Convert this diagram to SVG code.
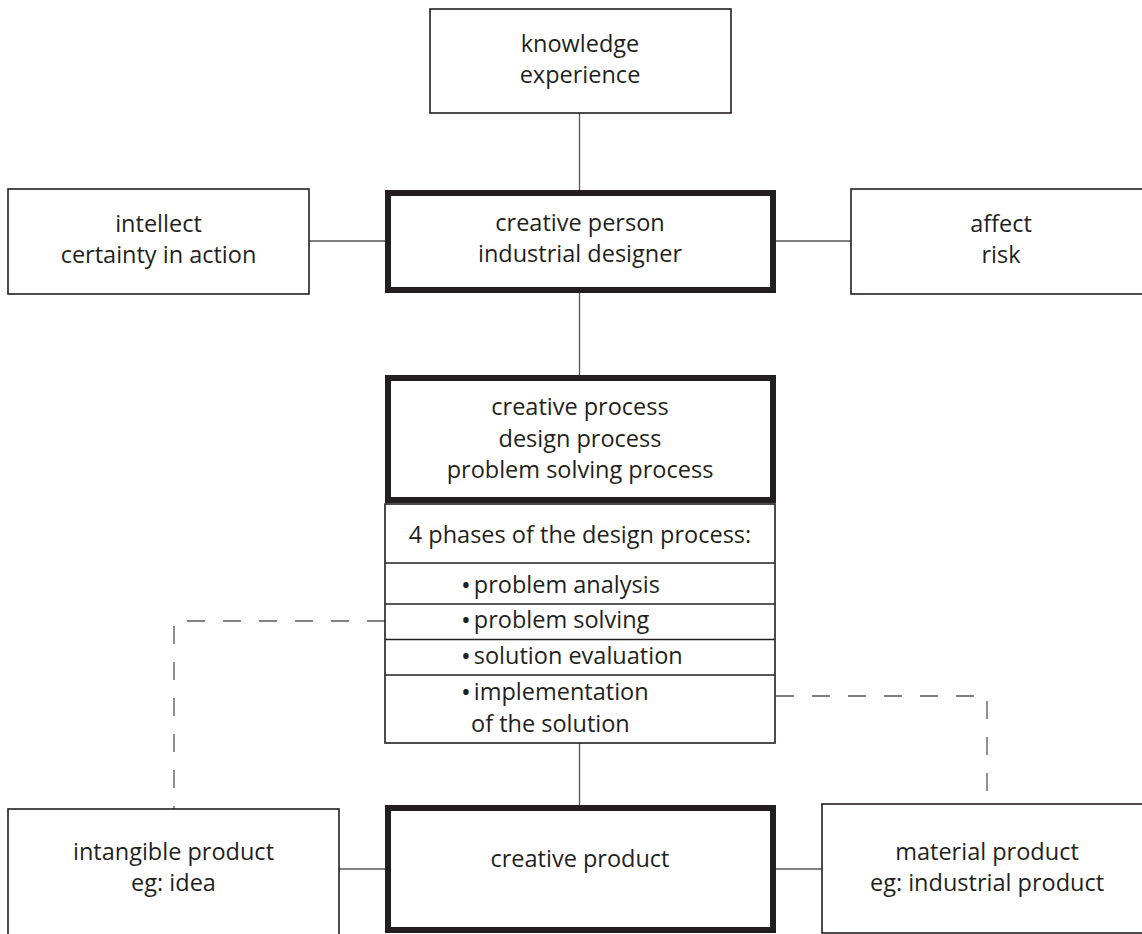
<svg xmlns="http://www.w3.org/2000/svg" width="1142" height="934" viewBox="0 0 1142 934">
<style>
.box{fill:#fff;stroke:#231f20;stroke-width:1.6}
.thick{fill:#fff;stroke:#231f20;stroke-width:6}
.div{stroke:#231f20;stroke-width:1.4}
.con{fill:none;stroke:#555;stroke-width:1.3}
.dash{fill:none;stroke:#555;stroke-width:1.3;stroke-dasharray:18 18}
text{font-family:"Open Sans","Noto Sans","Liberation Sans",sans-serif;font-size:23.5px;fill:#231f20}
.c{text-anchor:middle}
.b{font-size:26px}
</style>
<rect width="1142" height="934" fill="#fff"/>
<g id="connectors">
<line class="con" x1="579.5" y1="113" x2="579.5" y2="190"/>
<line class="con" x1="309" y1="241" x2="385" y2="241"/>
<line class="con" x1="776" y1="241" x2="851" y2="241"/>
<line class="con" x1="579.5" y1="293" x2="579.5" y2="375"/>
<line class="con" x1="579.5" y1="743" x2="579.5" y2="805"/>
<line class="con" x1="339" y1="869" x2="385" y2="869"/>
<line class="con" x1="776" y1="869" x2="822" y2="869"/>
<polyline class="dash" points="385,621 174,621 174,809"/>
<polyline class="dash" style="stroke-dasharray:18 18" points="776,696 987,696 987,804"/>
</g>
<g id="knowledge">
<rect class="box" x="430" y="9" width="301" height="104"/>
<text class="c" x="580" y="52">knowledge</text>
<text class="c" x="580" y="82.5">experience</text>
</g>
<g id="intellect">
<rect class="box" x="8" y="189" width="301" height="105"/>
<text class="c" x="158.5" y="232">intellect</text>
<text class="c" x="158.5" y="263">certainty in action</text>
</g>
<g id="person">
<rect class="thick" x="388" y="193" width="385" height="97"/>
<text class="c" x="580" y="230.5">creative person</text>
<text class="c" x="580" y="262">industrial designer</text>
</g>
<g id="affect">
<rect class="box" x="851" y="189" width="305" height="105"/>
<text class="c" x="1001" y="232">affect</text>
<text class="c" x="1001" y="263">risk</text>
</g>
<g id="process">
<rect class="thick" x="388" y="378" width="385" height="122"/>
<text class="c" x="580" y="415">creative process</text>
<text class="c" x="580" y="446.5">design process</text>
<text class="c" x="580" y="477.5">problem solving process</text>
</g>
<g id="phases">
<rect class="box" x="385" y="504" width="390" height="239"/>
<line class="div" x1="385" y1="563" x2="775" y2="563"/>
<line class="div" x1="385" y1="604" x2="775" y2="604"/>
<line class="div" x1="385" y1="639.5" x2="775" y2="639.5"/>
<line class="div" x1="385" y1="675" x2="775" y2="675"/>
<text class="c" x="580" y="543">4 phases of the design process:</text>
<text x="461" y="594"><tspan class="b">•</tspan><tspan dx="3" dy="-1">problem analysis</tspan></text>
<text x="461" y="629"><tspan class="b">•</tspan><tspan dx="3" dy="-1">problem solving</tspan></text>
<text x="461" y="665"><tspan class="b">•</tspan><tspan dx="3" dy="-1">solution evaluation</tspan></text>
<text x="461" y="701"><tspan class="b">•</tspan><tspan dx="3" dy="-1">implementation</tspan></text>
<text x="471" y="731.5">of the solution</text>
</g>
<g id="intangible">
<rect class="box" x="8" y="809" width="331" height="130"/>
<text class="c" x="173.5" y="859.5">intangible product</text>
<text class="c" x="173.5" y="891">eg: idea</text>
</g>
<g id="product">
<rect class="thick" x="388" y="808" width="385" height="122"/>
<text class="c" x="580" y="866.5">creative product</text>
</g>
<g id="material">
<rect class="box" x="822" y="804" width="334" height="129"/>
<text class="c" x="987" y="860">material product</text>
<text class="c" x="987" y="891">eg: industrial product</text>
</g>
</svg>
